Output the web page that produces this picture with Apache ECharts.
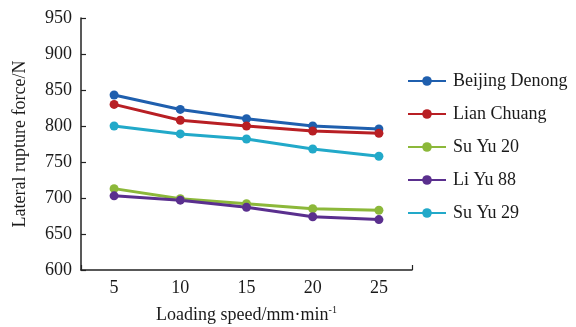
<!DOCTYPE html>
<html>
<head>
<meta charset="utf-8">
<script src="https://cdn.jsdelivr.net/npm/echarts@6/dist/echarts.min.js"></script>
<style>
  html, body { margin: 0; padding: 0; background: #fff; }
  #chart { width: 576px; height: 327px; }
</style>
</head>
<body>
<div id="chart"></div>
<script>
// loading speed categories (mm/min)
const speeds = ['5', '10', '15', '20', '25'];

// lateral rupture force (N)
const beijingDenong = [843, 823, 810, 800, 796];
const lianChuang = [830, 808, 800, 793, 790];
const suYu20 = [713, 699, 692, 685, 683];
const liYu88 = [703, 697, 687, 674, 670];
const suYu29 = [800, 789, 782, 768, 758];

const seriesNames = ['Beijing Denong', 'Lian Chuang', 'Su Yu 20', 'Li Yu 88', 'Su Yu 29'];
const seriesData = [beijingDenong, lianChuang, suYu20, liYu88, suYu29];
const colors = ['#1f5fae', '#b81f24', '#8cb83a', '#5a2f8e', '#22a9c9'];

const font = 'Liberation Serif';
const textColor = '#1a1a1a';
const tickStyle = { color: '#222', width: 1.2 };

const chart = echarts.init(document.getElementById('chart'));

const option = {
  animation: false,
  color: colors,
  textStyle: { fontFamily: font },
  grid: { left: 81, right: 164, top: 18, bottom: 57, outerBoundsMode: 'none', containLabel: false },
  legend: {
    orient: 'vertical',
    left: 402,
    top: 67,
    itemWidth: 38,
    itemHeight: 12,
    itemGap: 15,
    data: seriesNames,
    textStyle: { fontFamily: font, fontSize: 18, color: textColor, padding: [0, 0, 0, 2] }
  },
  xAxis: [
    {
      type: 'category',
      data: speeds,
      boundaryGap: true,
      position: 'bottom',
      name: '{n|Loading speed/mm·min}{s|-1}',
      nameLocation: 'middle',
      nameGap: 35,
      nameTextStyle: {
        rich: {
          n: { fontFamily: font, fontSize: 18, color: textColor },
          s: { fontFamily: font, fontSize: 10, color: textColor, verticalAlign: 'top', padding: [0, 0, 10, 0] }
        }
      },
      axisLine: { lineStyle: { color: '#222', width: 1.5 } },
      axisTick: { inside: true, alignWithLabel: true, length: 5, lineStyle: tickStyle },
      axisLabel: { fontFamily: font, fontSize: 18, color: textColor, margin: 9 },
      splitLine: { show: false }
    },
    {
      // only draws the closing tick at the right end of the x axis
      type: 'value',
      min: 0,
      max: 1,
      interval: 1,
      position: 'bottom',
      offset: 0,
      axisLine: { show: false },
      axisTick: { show: true, inside: true, length: 5, lineStyle: tickStyle },
      axisLabel: { show: false },
      splitLine: { show: false }
    }
  ],
  yAxis: {
    type: 'value',
    min: 600,
    max: 950,
    interval: 50,
    name: 'Lateral rupture force/N',
    nameLocation: 'middle',
    nameGap: 52,
    nameTextStyle: { fontFamily: font, fontSize: 18, color: textColor },
    axisLine: { show: true, lineStyle: { color: '#222', width: 1.5 } },
    axisTick: { show: true, inside: true, length: 5, lineStyle: tickStyle },
    axisLabel: { fontFamily: font, fontSize: 18, color: textColor, margin: 9 },
    splitLine: { show: false }
  },
  series: seriesNames.map((name, i) => ({
    name: name,
    type: 'line',
    xAxisIndex: 0,
    data: seriesData[i],
    symbol: 'circle',
    symbolSize: 9,
    lineStyle: { width: 3 },
    itemStyle: { color: colors[i] }
  }))
};

chart.setOption(option);
</script>
</body>
</html>
